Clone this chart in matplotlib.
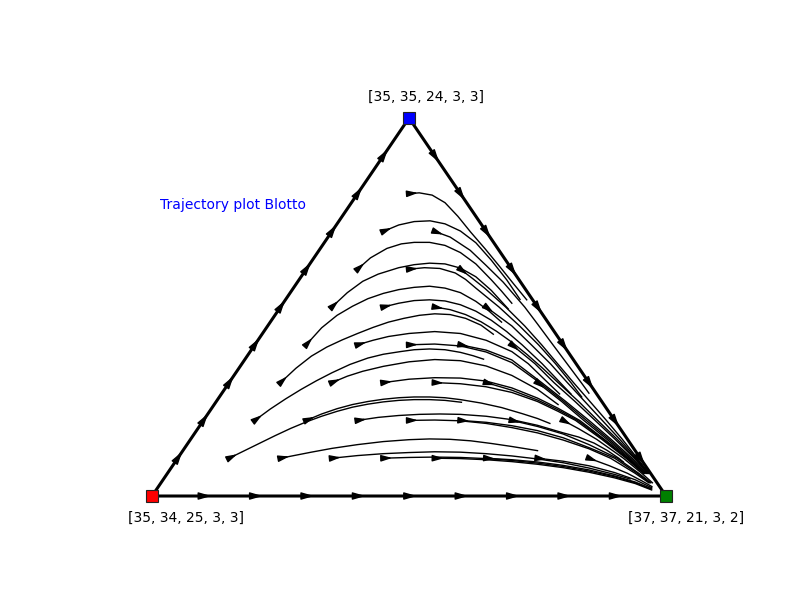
import numpy as np
import matplotlib
matplotlib.use("Agg")
import matplotlib.pyplot as plt
from matplotlib.patches import FancyArrowPatch

# ---------------- data ----------------
# Simplex coordinates scaled by 10: u = horizontal position (0 = red vertex, 10 = green vertex),
# v = height (0 = bottom edge, 10 = blue vertex).  Triangle corners: red, green, blue.
vertex_u = [0.0, 10.0, 5.0]
vertex_v = [0.0, 0.0, 10.0]
vertex_colors = ["red", "green", "blue"]
vertex_labels = ["[35, 34, 25, 3, 3]", "[37, 37, 21, 3, 2]", "[35, 35, 24, 3, 3]"]
plot_title = "Trajectory plot Blotto"
grid_steps = 10

# trajectories (row k = starting height, m = column)
traj_1_1 = [(1.5, 1.0), (1.8, 1.2), (2.1, 1.4), (2.4, 1.6), (2.7, 1.79), (3.0, 1.96), (3.3, 2.11),
            (3.6, 2.24), (3.9, 2.35), (4.2, 2.43), (4.5, 2.49), (4.8, 2.53), (5.1, 2.55), (5.4, 2.55),
            (5.7, 2.53), (6.02, 2.48)]
traj_1_2 = [(2.5, 1.0), (2.8, 1.08), (3.1, 1.16), (3.5, 1.26), (4.0, 1.36), (4.5, 1.44), (5.0, 1.49),
            (5.4, 1.51), (5.8, 1.5), (6.2, 1.46), (6.6, 1.39), (7.0, 1.31), (7.5, 1.2)]
traj_1_3 = [(3.5, 1.0), (4.0, 1.07), (4.5, 1.12), (5.0, 1.15), (5.5, 1.17), (6.0, 1.16), (6.5, 1.12),
            (7.0, 1.06), (7.5, 0.98), (8.0, 0.88), (8.5, 0.74), (9.0, 0.57), (9.3, 0.45)]
traj_1_4 = [(4.5, 1.0), (5.0, 1.02), (5.5, 1.03), (6.0, 1.02), (6.5, 0.99), (7.0, 0.94), (7.5, 0.87),
            (8.0, 0.78), (8.5, 0.66), (9.0, 0.51), (9.4, 0.35), (9.7, 0.19)]
traj_1_5 = [(5.5, 1.0), (6.0, 0.99), (6.5, 0.96), (7.0, 0.91), (7.5, 0.84), (8.0, 0.75), (8.5, 0.63),
            (9.0, 0.48), (9.4, 0.33), (9.72, 0.16)]
traj_1_6 = [(6.5, 1.0), (7.0, 0.96), (7.5, 0.9), (8.0, 0.81), (8.5, 0.69), (9.0, 0.53), (9.4, 0.37),
            (9.72, 0.19)]
traj_1_7 = [(7.5, 1.0), (8.0, 0.92), (8.5, 0.8), (9.0, 0.62), (9.4, 0.43), (9.72, 0.22)]
traj_1_8 = [(8.5, 1.0), (8.9, 0.8), (9.25, 0.6), (9.53, 0.4), (9.725, 0.25)]

traj_2_1 = [(2.0, 2.0), (2.3, 2.3), (2.6, 2.57), (2.9, 2.82), (3.2, 3.05), (3.5, 3.26), (3.85, 3.48),
            (4.2, 3.65), (4.5, 3.75), (4.83, 3.82), (5.1, 3.87), (5.4, 3.89), (5.7, 3.87), (6.0, 3.8),
            (6.25, 3.71), (6.45, 3.62)]
traj_2_2 = [(3.0, 2.0), (3.3, 2.17), (3.6, 2.31), (3.9, 2.42), (4.2, 2.5), (4.5, 2.56), (4.8, 2.6),
            (5.1, 2.62), (5.4, 2.62), (5.7, 2.6), (6.0, 2.55), (6.4, 2.46), (6.8, 2.34), (7.2, 2.18),
            (7.5, 2.05), (7.74, 1.92)]
traj_2_3 = [(4.0, 2.0), (4.4, 2.08), (4.8, 2.13), (5.2, 2.16), (5.6, 2.17), (6.0, 2.16), (6.5, 2.11),
            (7.0, 2.02), (7.5, 1.87), (8.0, 1.67), (8.3, 1.56), (8.6, 1.4), (8.85, 1.21), (9.08, 1.0),
            (9.17, 0.9)]
traj_2_4 = [(5.0, 2.0), (5.5, 2.01), (6.0, 1.99), (6.5, 1.92), (7.0, 1.81), (7.5, 1.67), (8.0, 1.48),
            (8.5, 1.25), (8.92, 1.0), (9.4, 0.6), (9.665, 0.35)]
traj_2_5 = [(6.0, 2.0), (6.5, 1.95), (7.0, 1.86), (7.5, 1.73), (8.0, 1.54), (8.5, 1.28), (9.0, 1.0),
            (9.44, 0.6), (9.685, 0.35)]
traj_2_6 = [(7.0, 2.0), (7.5, 1.84), (8.0, 1.64), (8.5, 1.36), (9.05, 1.0), (9.47, 0.6), (9.705, 0.35)]
traj_2_7 = [(8.0, 2.0), (8.3, 1.78), (8.65, 1.5), (9.17, 1.0), (9.53, 0.6), (9.735, 0.35)]

traj_3_1 = [(2.5, 3.0), (2.8, 3.38), (3.1, 3.7), (3.4, 3.94), (3.7, 4.13), (4.0, 4.3), (4.3, 4.46),
            (4.6, 4.6), (4.9, 4.7), (5.2, 4.78), (5.5, 4.82), (5.8, 4.8), (6.1, 4.7), (6.4, 4.52),
            (6.64, 4.28)]
traj_3_2 = [(3.5, 3.0), (3.8, 3.17), (4.1, 3.3), (4.5, 3.43), (5.0, 3.55), (5.5, 3.61), (6.0, 3.58),
            (6.5, 3.44), (7.0, 3.19), (7.5, 2.82), (7.9, 2.42)]
traj_3_3 = [(4.5, 3.0), (5.0, 3.09), (5.5, 3.13), (6.0, 3.12), (6.5, 3.04), (7.0, 2.86), (7.5, 2.59),
            (7.9, 2.32), (8.32, 2.0), (8.8, 1.5), (9.26, 1.0), (9.58, 0.6)]
traj_3_4 = [(5.5, 3.0), (6.0, 2.97), (6.5, 2.89), (7.0, 2.74), (7.5, 2.5), (7.9, 2.24), (8.24, 2.0),
            (8.75, 1.5), (9.22, 1.0), (9.56, 0.6)]
traj_3_5 = [(6.5, 3.0), (7.0, 2.8), (7.5, 2.54), (7.9, 2.28), (8.28, 2.0), (8.78, 1.5), (9.24, 1.0),
            (9.57, 0.6)]
traj_3_6 = [(7.5, 3.0), (7.97, 2.5), (8.4, 2.0), (8.85, 1.5), (9.28, 1.0), (9.59, 0.6)]

traj_4_1 = [(3.0, 4.0), (3.3, 4.45), (3.6, 4.78), (3.9, 5.02), (4.2, 5.22), (4.5, 5.36), (4.8, 5.46),
            (5.1, 5.52), (5.4, 5.55), (5.7, 5.5), (6.0, 5.38), (6.3, 5.15), (6.55, 4.9), (6.8, 4.6)]
traj_4_2 = [(4.0, 4.0), (4.3, 4.12), (4.6, 4.22), (5.0, 4.3), (5.5, 4.35), (6.0, 4.3), (6.5, 4.12),
            (7.0, 3.82), (7.32, 3.5), (7.7, 3.0), (7.93, 2.7)]
traj_4_3 = [(5.0, 4.0), (5.5, 4.02), (6.0, 3.97), (6.5, 3.81), (7.0, 3.53), (7.54, 3.0), (8.01, 2.5),
            (8.45, 2.0), (8.89, 1.5), (9.31, 1.0), (9.61, 0.6)]
traj_4_4 = [(6.0, 4.0), (6.5, 3.86), (7.0, 3.6), (7.58, 3.0), (8.05, 2.5), (8.5, 2.0), (8.93, 1.5),
            (9.34, 1.0), (9.62, 0.6)]
traj_4_5 = [(7.0, 4.0), (7.45, 3.5), (7.82, 3.0), (8.23, 2.5), (8.62, 2.0), (9.01, 1.5), (9.38, 1.0),
            (9.64, 0.6)]

traj_5_1 = [(3.5, 5.0), (3.8, 5.38), (4.1, 5.68), (4.4, 5.87), (4.8, 6.04), (5.1, 6.12), (5.4, 6.16),
            (5.7, 6.14), (6.0, 6.03), (6.3, 5.8), (6.6, 5.44), (6.93, 4.95)]
traj_5_2 = [(4.5, 5.0), (4.8, 5.1), (5.1, 5.17), (5.4, 5.19), (5.7, 5.16), (6.0, 5.06), (6.3, 4.89),
            (6.6, 4.65), (6.9, 4.35), (7.2, 4.0), (7.59, 3.5), (7.94, 3.0), (8.15, 2.7)]
traj_5_3 = [(5.5, 5.0), (5.8, 4.93), (6.1, 4.8), (6.4, 4.61), (6.7, 4.36), (7.0, 4.07), (7.3, 3.74),
            (7.6, 3.38), (7.9, 3.0), (8.3, 2.5), (8.67, 2.0), (9.05, 1.5), (9.4, 1.0), (9.65, 0.6)]
traj_5_4 = [(6.5, 5.0), (7.0, 4.5), (7.38, 4.0), (7.75, 3.5), (8.08, 3.0), (8.42, 2.5), (8.76, 2.0),
            (9.1, 1.5), (9.42, 1.0), (9.66, 0.6)]

traj_6_1 = [(4.0, 6.0), (4.25, 6.3), (4.57, 6.55), (4.85, 6.67), (5.1, 6.71), (5.4, 6.71), (5.7, 6.63),
            (6.0, 6.44), (6.3, 6.14), (6.6, 5.72), (6.8, 5.42), (7.0, 5.1)]
traj_6_2 = [(5.0, 6.0), (5.3, 6.04), (5.6, 6.02), (5.9, 5.9), (6.1, 5.73), (6.3, 5.5), (6.75, 5.0),
            (7.15, 4.5), (7.52, 4.0), (7.85, 3.5), (8.15, 3.0), (8.36, 2.62)]
traj_6_3 = [(6.0, 6.0), (6.24, 5.75), (6.47, 5.5), (6.88, 5.0), (7.25, 4.5), (7.58, 4.0), (7.89, 3.5),
            (8.2, 3.0), (8.52, 2.5), (8.84, 2.0), (9.15, 1.5), (9.44, 1.0), (9.67, 0.6)]

traj_7_1 = [(4.5, 7.0), (4.8, 7.17), (5.1, 7.26), (5.41, 7.28), (5.7, 7.2), (6.0, 7.01), (6.3, 6.7),
            (6.6, 6.24), (6.9, 5.72), (7.16, 5.2)]
traj_7_2 = [(5.5, 7.0), (5.8, 6.85), (6.19, 6.5), (6.5, 6.1), (6.83, 5.66), (7.25, 5.0), (7.5, 4.55),
            (7.8, 4.0), (8.35, 3.0), (8.5, 2.72)]

traj_8_1 = [(5.0, 8.0), (5.2, 8.02), (5.45, 7.96), (5.7, 7.76), (5.95, 7.4), (6.2, 6.98), (6.48, 6.54),
            (6.77, 6.06), (7.03, 5.62), (7.29, 5.19)]

trajectories = [traj_1_1, traj_1_2, traj_1_3, traj_1_4, traj_1_5, traj_1_6, traj_1_7, traj_1_8,
                traj_2_1, traj_2_2, traj_2_3, traj_2_4, traj_2_5, traj_2_6, traj_2_7,
                traj_3_1, traj_3_2, traj_3_3, traj_3_4, traj_3_5, traj_3_6,
                traj_4_1, traj_4_2, traj_4_3, traj_4_4, traj_4_5,
                traj_5_1, traj_5_2, traj_5_3, traj_5_4,
                traj_6_1, traj_6_2, traj_6_3,
                traj_7_1, traj_7_2,
                traj_8_1]

# edge flow directions: (from vertex index, to vertex index)
edge_flows = [(0, 1), (0, 2), (2, 1)]

# ---------------- plot ----------------
fig, ax = plt.subplots(figsize=(8, 6), dpi=100)
ax.set_xlim(-1.012, 11.05)
ax.set_ylim(-1.005, 11.217)
ax.axis("off")

T = ax.transData
inv = T.inverted()


def add_head(p, q, ahead_px=9.0, scale=10.0, hw=0.19, hl=0.65):
    pd = T.transform(p)
    qd = T.transform(q)
    d = qd - pd
    d = d / np.hypot(d[0], d[1])
    tip = pd + d * ahead_px
    tail = tip - d * 10.0
    arr = FancyArrowPatch(inv.transform(tail), inv.transform(tip),
                          arrowstyle=f"-|>,head_length={hl},head_width={hw}",
                          mutation_scale=scale, color="black", lw=1.0,
                          shrinkA=0, shrinkB=0, zorder=4)
    ax.add_patch(arr)


# triangle edges
ax.plot(vertex_u + [vertex_u[0]], vertex_v + [vertex_v[0]], color="black", lw=2.2, zorder=2)

# edge arrows at the grid points
for a, b in edge_flows:
    pa = np.array([vertex_u[a], vertex_v[a]])
    pb = np.array([vertex_u[b], vertex_v[b]])
    for k in range(1, grid_steps):
        p = pa + (pb - pa) * k / grid_steps
        add_head(p, pb, ahead_px=8.0, scale=11.0, hw=0.2, hl=0.7)

# trajectories
for tr in trajectories:
    arr = np.array(tr)
    ax.plot(arr[:, 0], arr[:, 1], color="black", lw=1.0, zorder=3)
    add_head(arr[0], arr[1])

# vertices
for i in range(3):
    ax.plot(vertex_u[i], vertex_v[i], marker="s", markersize=9, color=vertex_colors[i],
            markeredgecolor="#222222", markeredgewidth=0.8, zorder=6, linestyle="none")

label_offsets = [(24.5, -15.8), (14.4, -15.8), (12.2, 15.1)]
for i in range(3):
    ax.annotate(vertex_labels[i], xy=(vertex_u[i], vertex_v[i]), xytext=label_offsets[i],
                textcoords="offset points", ha="center", va="center", fontsize=10, color="black")

ax.text(0.156, 7.7, plot_title, color="blue", fontsize=10, ha="left", va="center")

fig.savefig("out.png", dpi=100)
